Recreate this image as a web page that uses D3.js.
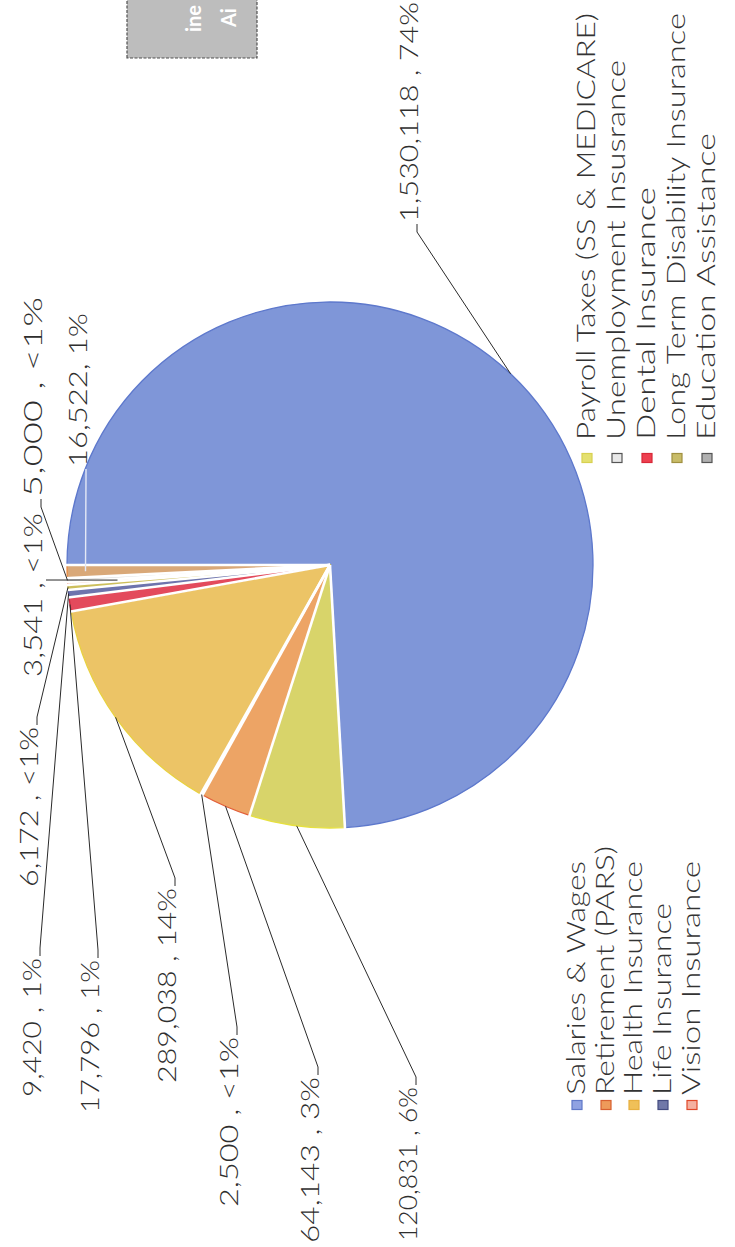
<!DOCTYPE html>
<html>
<head>
<meta charset="utf-8">
<script src="https://cdn.jsdelivr.net/npm/d3@7"></script>
<style>
  html, body { margin: 0; padding: 0; background: #ffffff; }
  svg { display: block; }
  text { font-family: "Century Gothic", "URW Gothic L", Lato, "Open Sans", sans-serif; font-weight: 300; }
</style>
</head>
<body>
<svg id="chart" width="735" height="1247"></svg>
<script>
// ---- data ----------------------------------------------------------------
const categories = [
  "Salaries & Wages",
  "Payroll Taxes (SS & MEDICARE)",
  "Retirement (PARS)",
  "Unemployment Insusrance",
  "Health Insurance",
  "Dental Insurance",
  "Life Insurance",
  "Long Term Disability Insurance",
  "Vision Insurance",
  "Education Assistance",
  "Other"
];
const values = [1530118, 120831, 64143, 2500, 289038, 17796, 9420, 6172, 3541, 5000, 16522];
const pctLabels = ["74%", "6%", "3%", "<1%", "14%", "1%", "1%", "<1%", "<1%", "<1%", "1%"];
const separators = [" , ", " , ", " , ", " , ", " , ", " , ", " , ", " , ", " , ", " , ", ", "];
// legend columns (indices into categories), read row by row
const legendColumns = [[0, 2, 4, 6, 8], [1, 3, 5, 7, 9]];

// ---- styles --------------------------------------------------------------
const sliceColors = ["#7f96d8", "#d8d46a", "#eda465", "#f2f0ea", "#ecc466", "#e34a5c",
                     "#6e74ad", "#cdbf5c", "#f3c2b0", "#dcdcdc", "#d9a878"];
const sliceEdges  = ["#5d78cc", "#e6e040", "#e2603a", "#d8d4c8", "#e8d040", "#c8283c",
                     "#4e5490", "#b0a440", "#e8603a", "#b8b8b8", "#e88a40"];
const swatchFill  = ["#90a2e2", "#e4e070", "#ee9a5a", "#e8e8e8", "#f0c058", "#ee4050",
                     "#7078a8", "#c8bc68", "#f4b0a0", "#b0b0b0"];
const swatchEdge  = ["#6078c8", "#d8d050", "#d86030", "#555555", "#e8b040", "#d82838",
                     "#444c80", "#a09040", "#e04828", "#555555"];

// ---- layout (landscape frame, turned onto the portrait page) -------------
const FW = 1247, FH = 735;
const cx = 682, cy = 330, R = 263;

// label placement: text start x, baseline y, text length, leader side
const labelLayout = [
  { x: 1025, y: 418, len: 220, side: "start" },
  { x: 6,    y: 417, len: 154, side: "end" },
  { x: 4,    y: 319, len: 166, side: "end" },
  { x: 40,   y: 238, len: 170, side: "end" },
  { x: 164,  y: 176, len: 195, side: "end" },
  { x: 134,  y: 99,  len: 153, side: "end" },
  { x: 150,  y: 41,  len: 139, side: "end" },
  { x: 360,  y: 38,  len: 160, side: "end" },
  { x: 570,  y: 42,  len: 164, side: "below", fromX: 667, reach: 0.81 },
  { x: 750,  y: 42,  len: 200, side: "start" },
  { x: 780,  y: 87,  len: 154, side: "start", reach: 0.93, light: true }
];

const legendLayout = [
  { swX: 142, textX: 152, rows: [577, 606, 634, 663, 692], lens: [234, 249, 234, 192, 234] },
  { swX: 789, textX: 807, rows: [587, 617, 647, 677, 707], lens: [427, 380, 253, 427, 307] }
];

const svg = d3.select("#chart");
const g = svg.append("g").attr("transform", `translate(0,${FW}) rotate(-90)`);

// ---- pie -------------------------------------------------------------------
const pieData = d3.pie().sort(null).value(d => d)(values);
const arc = d3.arc().innerRadius(0).outerRadius(R);
const pieG = g.append("g").attr("transform", `translate(${cx},${cy})`);

pieG.selectAll("path.slice")
  .data(pieData)
  .join("path")
  .attr("class", "slice")
  .attr("d", arc)
  .attr("fill", (d, i) => sliceColors[i])
  .attr("stroke", (d, i) => sliceEdges[i])
  .attr("stroke-width", 1.3);

// white gaps between neighbouring slices
pieG.selectAll("line.sep")
  .data(pieData)
  .join("line")
  .attr("class", "sep")
  .attr("x1", 0).attr("y1", 0)
  .attr("x2", d => (R + 3) * Math.sin(d.startAngle))
  .attr("y2", d => -(R + 3) * Math.cos(d.startAngle))
  .attr("stroke", "#ffffff")
  .attr("stroke-width", 2.6);

// ---- data labels with leader lines ----------------------------------------
const fmt = d3.format(",");
const pointOn = (d, k) => {
  const a = (d.startAngle + d.endAngle) / 2;
  return [cx + R * k * Math.sin(a), cy - R * k * Math.cos(a)];
};

const labelG = g.append("g");
pieData.forEach((d, i) => {
  const L = labelLayout[i];
  const end = pointOn(d, L.reach || 1);
  let pts;
  if (L.side === "end") {
    pts = [[L.x + L.len + 2, L.y - 1], [L.x + L.len + 10, L.y - 1], end];
  } else if (L.side === "start") {
    pts = [[L.x - 2, L.y - 1], [L.x - 10, L.y - 1], end];
  } else {
    pts = [[L.fromX, L.y + 4], end];
  }
  labelG.append("path")
    .attr("d", d3.line()(pts))
    .attr("fill", "none")
    .attr("stroke", L.light ? "#e4e8f6" : "#2a2a2a")
    .attr("stroke-width", L.light ? 1.4 : 1);

  labelG.append("text")
    .attr("x", L.x)
    .attr("y", L.y)
    .attr("textLength", L.len)
    .attr("lengthAdjust", "spacingAndGlyphs")
    .attr("font-size", 25)
    .attr("fill", "#2e2e2e")
    .text(fmt(values[i]) + separators[i] + pctLabels[i]);
});

// ---- legend ------------------------------------------------------------------
const legendG = g.append("g");
legendColumns.forEach((col, c) => {
  const lay = legendLayout[c];
  col.forEach((idx, r) => {
    const yc = lay.rows[r];
    legendG.append("rect")
      .attr("x", lay.swX - 4.5).attr("y", yc - 5)
      .attr("width", 9).attr("height", 10)
      .attr("fill", swatchFill[idx])
      .attr("stroke", swatchEdge[idx])
      .attr("stroke-width", 1.2);
    legendG.append("text")
      .attr("x", lay.textX)
      .attr("y", yc + 8)
      .attr("textLength", lay.lens[r])
      .attr("lengthAdjust", "spacingAndGlyphs")
      .attr("font-size", 25)
      .attr("fill", "#333333")
      .text(categories[idx]);
  });
});

// ---- header tab in the corner ---------------------------------------------
const tab = g.append("g");
tab.append("rect")
  .attr("x", 1189).attr("y", 127)
  .attr("width", 80).attr("height", 130)
  .attr("fill", "#bdbdbd")
  .attr("stroke", "#505050")
  .attr("stroke-width", 1.2)
  .attr("stroke-dasharray", "3,1.5");
tab.append("text")
  .attr("x", 1215).attr("y", 201)
  .attr("font-size", 20).style("font-weight", "bold")
  .attr("fill", "#ffffff")
  .text("ine");
tab.append("text")
  .attr("x", 1220).attr("y", 236)
  .attr("font-size", 20).style("font-weight", "bold")
  .attr("fill", "#ffffff")
  .text("Ai");
</script>
</body>
</html>
